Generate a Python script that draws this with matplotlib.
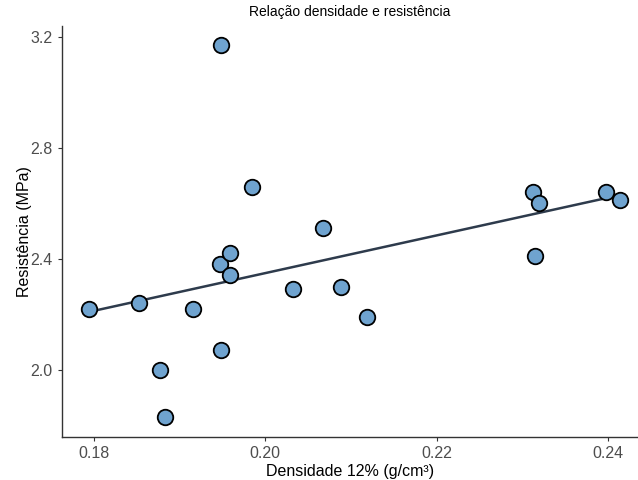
import numpy as np
import matplotlib
matplotlib.use('Agg')
import matplotlib.pyplot as plt

plt.rcParams['font.family'] = ['Liberation Sans', 'DejaVu Sans']

# dados
densidade = [0.1795, 0.1853, 0.1877, 0.1883, 0.1916, 0.1949, 0.1948, 0.1959,
             0.1959, 0.1949, 0.1985, 0.2033, 0.2068, 0.2088, 0.2119, 0.2313,
             0.2320, 0.2315, 0.2398, 0.2414]
resistencia = [2.22, 2.24, 2.00, 1.83, 2.22, 3.17, 2.38, 2.42,
               2.34, 2.07, 2.66, 2.29, 2.51, 2.30, 2.19, 2.64,
               2.60, 2.41, 2.64, 2.61]
xticks = [0.18, 0.20, 0.22, 0.24]
yticks = [2.0, 2.4, 2.8, 3.2]

x = np.array(densidade)
y = np.array(resistencia)

fig = plt.figure(figsize=(6.38, 4.80), dpi=100)
ax = fig.add_axes([0.097, 0.09, 0.903, 0.856])

# reta de regressão (lm)
coef = np.polyfit(x, y, 1)
xs = np.linspace(x.min(), x.max(), 50)
ax.plot(xs, np.polyval(coef, xs), color='#2e3b4c', lw=1.8, zorder=2)

ax.scatter(x, y, s=125, color='#6fa3cf', edgecolor='black', linewidth=1.3, zorder=3)

ax.set_xlim(0.1763, 0.2435)
ax.set_ylim(1.759, 3.2385)
ax.set_xticks(xticks)
ax.set_xticklabels([f'{v:.2f}' for v in xticks])
ax.set_yticks(yticks)
ax.set_yticklabels([f'{v:.1f}' for v in yticks])

for s in ['top', 'right']:
    ax.spines[s].set_visible(False)
for s in ['left', 'bottom']:
    ax.spines[s].set_color('#333333')
    ax.spines[s].set_linewidth(1.0)
ax.tick_params(colors='#333333', labelcolor='#4d4d4d', labelsize=11.5, length=3)

ax.set_xlabel('Densidade 12% (g/cm³)', fontsize=11.5, labelpad=2)
ax.set_ylabel('Resistência (MPa)', fontsize=11.5, labelpad=-1)
ax.set_title('Relação densidade e resistência', fontsize=10, pad=7)

fig.savefig('out.png', dpi=100)
